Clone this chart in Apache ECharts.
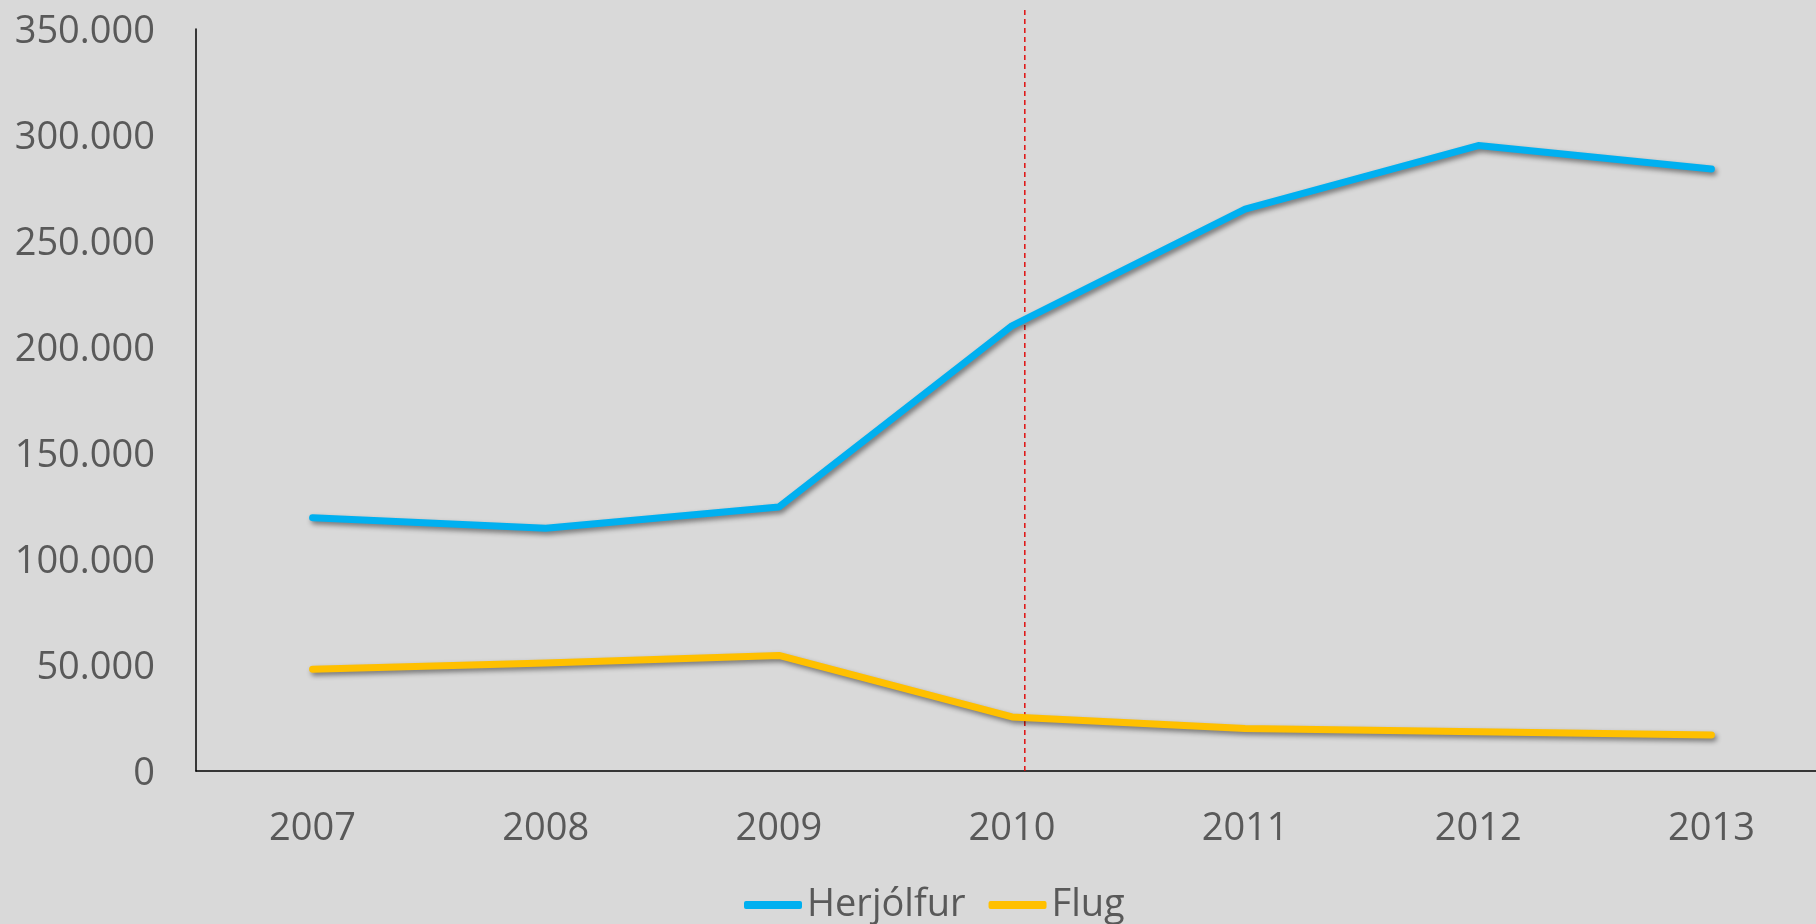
<!DOCTYPE html>
<html>
<head>
<meta charset="utf-8">
<script src="https://cdn.jsdelivr.net/npm/echarts@6/dist/echarts.min.js"></script>
<style>
  html, body { margin: 0; padding: 0; background: #d9d9d9; overflow: hidden; }
  /* a little wider than the window: the plot runs past the right edge */
  #chart { width: 1828px; height: 924px; }
</style>
</head>
<body>
<div id="chart"></div>
<script>
// years on the x axis
var years = ['2007', '2008', '2009', '2010', '2011', '2012', '2013'];
// passengers per year
var herjolfur = [119500, 114500, 124500, 210000, 265000, 295000, 284000];
var flug = [48000, 51000, 54500, 25500, 20000, 18500, 17000];
// dashed marker just after 2010 (position on a 0..7 band scale)
var markerX = [3.555, 3.555];
var markerY = [0, 360000];

var textColor = '#595959';
var font = '"Open Sans", "DejaVu Sans", sans-serif';

var myChart = echarts.init(document.getElementById('chart'));

var lineShadow = {
	shadowColor: 'rgba(0,0,0,0.45)',
	shadowBlur: 5,
	shadowOffsetX: 2,
	shadowOffsetY: 3
};

var option = {
	backgroundColor: '#d9d9d9',
	animation: false,
	grid: {
		left: 196,
		right: 0,
		top: 29,
		bottom: 153
	},
	legend: {
		data: ['Herjólfur', 'Flug'],
		left: 739,
		top: 881,
		icon: 'roundRect',
		itemWidth: 58,
		itemHeight: 8,
		itemGap: 23,
		textStyle: { color: textColor, fontSize: 38, fontFamily: font }
	},
	xAxis: [
		{
			type: 'category',
			data: years,
			boundaryGap: true,
			axisLine: { lineStyle: { color: '#000', width: 1.5 } },
			axisTick: { show: false },
			axisLabel: { color: textColor, fontSize: 38, fontFamily: font, margin: 39 },
			splitLine: { show: false }
		},
		{
			// hidden helper axis, only for placing the dashed marker
			type: 'value',
			min: 0,
			max: 7,
			show: false
		}
	],
	yAxis: {
		type: 'value',
		min: 0,
		max: 350000,
		interval: 50000,
		axisLine: { show: true, lineStyle: { color: '#000', width: 1.5 } },
		axisTick: { show: false },
		splitLine: { show: false },
		axisLabel: {
			color: textColor,
			fontSize: 38,
			fontFamily: font,
			margin: 41,
			formatter: function (v) {
				var s = v === 0 ? '0' : (v / 1000).toFixed(0) + '.000';
				return '{v|' + s + '}';
			},
			rich: {
				v: { color: textColor, fontSize: 38, fontFamily: font, padding: [7, 0, 0, 0] }
			}
		}
	},
	series: [
		{
			name: 'marker',
			type: 'line',
			xAxisIndex: 1,
			data: markerX.map(function (x, i) { return [x, markerY[i]]; }),
			showSymbol: false,
			silent: true,
			clip: false,
			z: 1,
			lineStyle: { color: '#e00000', width: 1.4, type: [5, 4] }
		},
		{
			name: 'Herjólfur',
			type: 'line',
			data: herjolfur,
			showSymbol: false,
			z: 3,
			itemStyle: { color: '#00b0f0' },
			lineStyle: Object.assign({ color: '#00b0f0', width: 7, cap: 'round', join: 'round' }, lineShadow),
			emphasis: { disabled: true }
		},
		{
			name: 'Flug',
			type: 'line',
			data: flug,
			showSymbol: false,
			z: 3,
			itemStyle: { color: '#ffc000' },
			lineStyle: Object.assign({ color: '#ffc000', width: 7, cap: 'round', join: 'round' }, lineShadow),
			emphasis: { disabled: true }
		}
	]
};

myChart.setOption(option, true);
</script>
</body>
</html>
